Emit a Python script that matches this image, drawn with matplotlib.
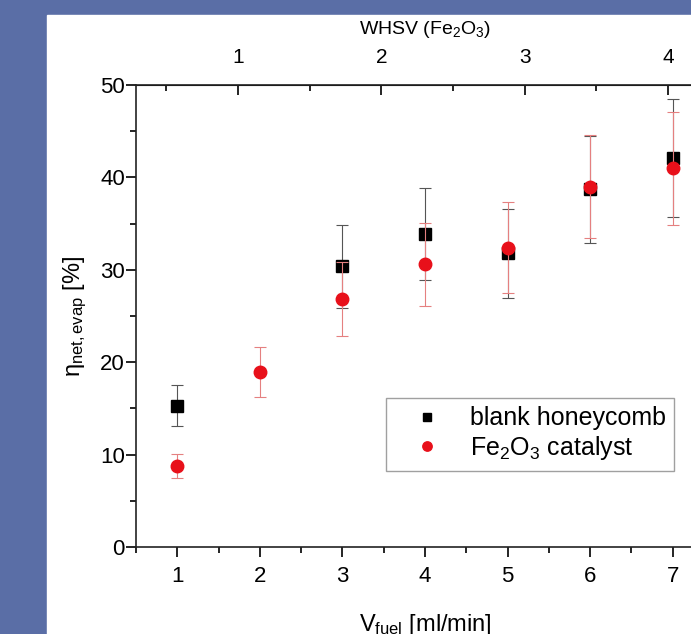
import matplotlib.pyplot as plt
from matplotlib.patches import Rectangle
from matplotlib.ticker import MultipleLocator

plt.rcParams['font.family'] = ['Liberation Sans', 'DejaVu Sans']
plt.rcParams['mathtext.fontset'] = 'custom'
plt.rcParams['mathtext.rm'] = 'Liberation Sans'
plt.rcParams['mathtext.it'] = 'Liberation Sans:italic'

# Data
flow_blank = [1, 3, 4, 5, 6, 7]
eta_blank = [15.3, 30.4, 33.9, 31.8, 38.7, 42.1]
err_blank = [2.2, 4.5, 5.0, 4.8, 5.8, 6.4]

flow_fe = [1, 2, 3, 4, 5, 6, 7]
eta_fe = [8.8, 18.9, 26.8, 30.6, 32.4, 39.0, 41.0]
err_fe = [1.3, 2.7, 4.0, 4.5, 4.9, 5.6, 6.1]

whsv_per_flow = 0.576  # WHSV (Fe2O3) per ml/min

slide_blue = '#5a6ea6'

fig = plt.figure(figsize=(6.91, 6.34), dpi=100, facecolor=slide_blue)
fig.add_artist(Rectangle((47 / 691, 0), 1, (634 - 15) / 634,
                         transform=fig.transFigure, color='white', zorder=-10))

ax = fig.add_axes([136 / 691, (634 - 547) / 634, 578 / 691, 462 / 634])
ax.set_zorder(1)
ax.patch.set_alpha(0)

eb1 = ax.errorbar(flow_blank, eta_blank, yerr=err_blank, fmt='s', color='black',
                  ms=8, ecolor='#555555', elinewidth=0.8, capsize=4, capthick=0.8,
                  zorder=3)
eb2 = ax.errorbar(flow_fe, eta_fe, yerr=err_fe, fmt='o', color='#e8101a',
                  ms=9, ecolor='#e58080', elinewidth=0.8, capsize=4, capthick=0.8,
                  zorder=4)

ax.set_xlim(0.5, 7.5)
ax.set_ylim(0, 50)
ax.xaxis.set_major_locator(MultipleLocator(1))
ax.xaxis.set_minor_locator(MultipleLocator(0.5))
ax.yaxis.set_major_locator(MultipleLocator(10))
ax.yaxis.set_minor_locator(MultipleLocator(5))
ax.tick_params(which='both', direction='out', labelsize=16, width=1.2)
ax.tick_params(which='major', length=7)
ax.tick_params(which='minor', length=4)
ax.tick_params(axis='x', which='major', pad=7)
ax.tick_params(axis='y', which='major', pad=1)
for s in ax.spines.values():
    s.set_linewidth(1.2)
    s.set_color('#222222')

top = ax.secondary_xaxis('top', functions=(lambda v: v * whsv_per_flow,
                                           lambda w: w / whsv_per_flow))
top.xaxis.set_major_locator(MultipleLocator(1))
top.xaxis.set_minor_locator(MultipleLocator(0.5))
top.tick_params(which='both', direction='in', labelsize=15, width=1.2, pad=13)
top.tick_params(which='major', length=7)
top.tick_params(which='minor', length=4)
top.set_xlabel('WHSV (Fe$_2$O$_3$)', fontsize=14, labelpad=10)

ax.set_ylabel(r'η$_{\mathrm{net,evap}}$ [%]', fontsize=17, labelpad=8)
ax.set_xlabel(r'V$_{\mathrm{fuel}}$ [ml/min]', fontsize=17, labelpad=18)

leg = ax.legend([eb1.lines[0], eb2.lines[0]],
                ['blank honeycomb', 'Fe$_2$O$_3$ catalyst'],
                loc='lower left', bbox_to_anchor=(0.4325, 0.165), fontsize=18,
                frameon=True, fancybox=False, edgecolor='#888888',
                borderaxespad=0, handletextpad=0.4, borderpad=0.35,
                labelspacing=0.15, handlelength=2.6, markerscale=0.75)
leg.get_frame().set_linewidth(1.0)

fig.savefig('out.png', dpi=100, facecolor=fig.get_facecolor())
